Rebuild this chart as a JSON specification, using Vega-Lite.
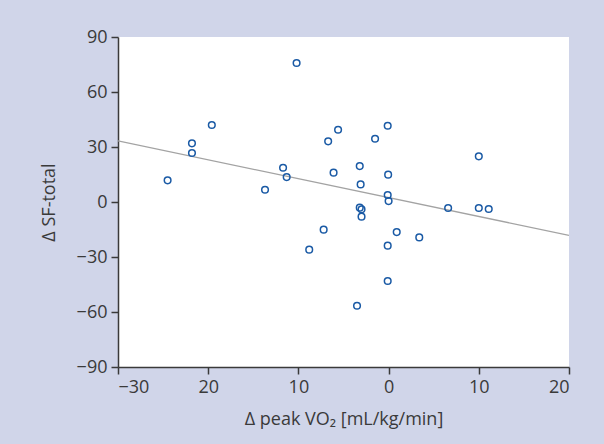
{
  "$schema": "https://vega.github.io/schema/vega-lite/v6.json",
  "width": 451,
  "height": 330,
  "autosize": {"type": "none"},
  "padding": {"left": 118, "top": 37, "right": 35, "bottom": 77},
  "background": "#d0d5e9",
  "config": {
    "view": {"fill": "white", "stroke": null},
    "font": "Open Sans",
    "axis": {
      "grid": false,
      "domainColor": "#3a3a3a",
      "domainWidth": 1.5,
      "tickColor": "#3a3a3a",
      "tickWidth": 1.5,
      "tickSize": 7,
      "labelFont": "Open Sans",
      "labelFontSize": 18,
      "labelColor": "#3a3a3a",
      "titleFont": "Open Sans",
      "titleFontSize": 18,
      "titleFontWeight": "normal",
      "titleColor": "#3a3a3a"
    }
  },
  "datasets": {
    "points": [
      {"dvo2": -24.5, "dsf": 11.8},
      {"dvo2": -21.8, "dsf": 32.0},
      {"dvo2": -21.8, "dsf": 26.7},
      {"dvo2": -19.6, "dsf": 42.0},
      {"dvo2": -13.7, "dsf": 6.7},
      {"dvo2": -11.7, "dsf": 18.7},
      {"dvo2": -11.3, "dsf": 13.6},
      {"dvo2": -10.2, "dsf": 75.8},
      {"dvo2": -8.8, "dsf": -26.0},
      {"dvo2": -7.2, "dsf": -15.1},
      {"dvo2": -6.7, "dsf": 33.1},
      {"dvo2": -6.1, "dsf": 16.0},
      {"dvo2": -5.6, "dsf": 39.4},
      {"dvo2": -3.5, "dsf": -56.6},
      {"dvo2": -3.2, "dsf": 19.6},
      {"dvo2": -3.1, "dsf": 9.6},
      {"dvo2": -3.2, "dsf": -3.1},
      {"dvo2": -3.0, "dsf": -4.0},
      {"dvo2": -3.0, "dsf": -8.0},
      {"dvo2": -1.5, "dsf": 34.5},
      {"dvo2": -0.1, "dsf": 41.6},
      {"dvo2": -0.05, "dsf": 14.9},
      {"dvo2": -0.1, "dsf": 3.8},
      {"dvo2": 0.0, "dsf": 0.5},
      {"dvo2": -0.1, "dsf": -23.8},
      {"dvo2": -0.1, "dsf": -43.1},
      {"dvo2": 0.9, "dsf": -16.4},
      {"dvo2": 3.4, "dsf": -19.3},
      {"dvo2": 6.6, "dsf": -3.3},
      {"dvo2": 10.0, "dsf": 24.9},
      {"dvo2": 10.0, "dsf": -3.3},
      {"dvo2": 11.1, "dsf": -3.8}
    ],
    "fit": [
      {"dvo2": -30, "dsf": 33.3},
      {"dvo2": 20, "dsf": -18.2}
    ]
  },
  "layer": [
    {
      "data": {"name": "fit"},
      "mark": {"type": "line", "color": "#a3a3a3", "strokeWidth": 1.3, "clip": true},
      "encoding": {
        "x": {
          "field": "dvo2", "type": "quantitative",
          "scale": {"domain": [-30, 20], "nice": false, "zero": false},
          "axis": {
            "values": [-30, -20, -10, 0, 10, 20],
            "labelExpr": "datum.value == -30 ? '−30' : toString(abs(datum.value))",
            "title": "Δ peak VO₂ [mL/kg/min]",
            "titlePadding": 14,
            "labelPadding": 4
          }
        },
        "y": {
          "field": "dsf", "type": "quantitative",
          "scale": {"domain": [-90, 90], "nice": false, "zero": false},
          "axis": {
            "values": [-90, -60, -30, 0, 30, 60, 90],
            "labelExpr": "datum.value < 0 ? '−' + toString(abs(datum.value)) : toString(datum.value)",
            "title": "Δ SF-total",
            "titlePadding": 18,
            "labelPadding": 4
          }
        }
      }
    },
    {
      "data": {"name": "points"},
      "mark": {"type": "point", "shape": "circle", "filled": false, "color": "#1a5aa5", "strokeWidth": 1.5, "size": 44, "opacity": 1},
      "encoding": {
        "x": {"field": "dvo2", "type": "quantitative"},
        "y": {"field": "dsf", "type": "quantitative"}
      }
    }
  ]
}
